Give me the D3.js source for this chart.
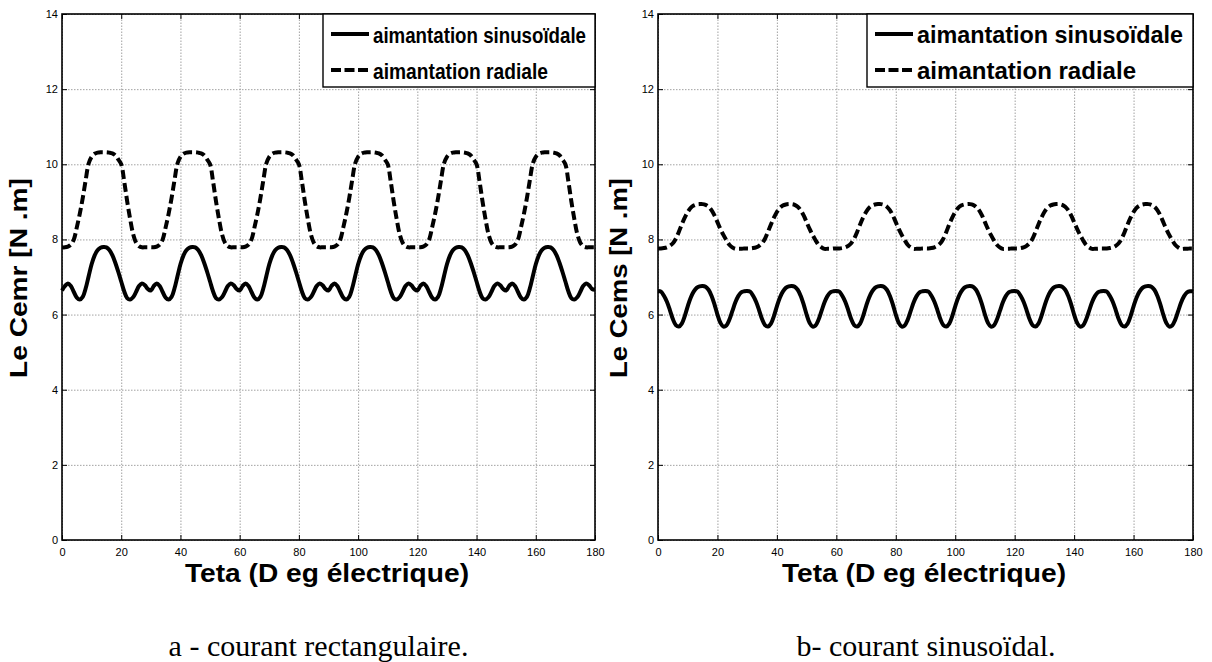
<!DOCTYPE html>
<html>
<head>
<meta charset="utf-8">
<script src="https://cdn.jsdelivr.net/npm/d3@7"></script>
<style>
  body { margin: 0; background: #fff; }
  svg { font-family: "Liberation Sans", Arial, sans-serif; }
  .grid line { stroke: #8a8a8a; stroke-dasharray: 1.5, 1.5; stroke-width: 0.8; }
  .grid path { display: none; }
  .ticks path { display: none; }
  .ticks line { stroke: #000; stroke-width: 1; }
  .ticks text { font-size: 11px; fill: #000; }
  .line { fill: none; stroke: #000; stroke-width: 4; stroke-linejoin: round; }
  .dash { stroke-dasharray: 9, 4; }
  .box { fill: none; stroke: #000; stroke-width: 1.6; }
</style>
</head>
<body>
<svg id="fig" width="1212" height="662"></svg>
<script>
// angle in electrical degrees, one sample per degree
var teta = d3.range(0, 181, 1);

// a - courant rectangulaire
var cemrSinusoidale = [
  6.64,6.76,6.83,6.76,6.60,6.45,6.40,6.47,6.70,7.02,7.34,7.57,7.71,7.78,7.80,7.79,7.72,7.58,7.38,7.14,6.88,6.62,6.44,6.40,6.46,6.60,6.76,6.83,6.78,6.68,
  6.64,6.76,6.83,6.76,6.60,6.45,6.40,6.47,6.70,7.02,7.34,7.57,7.71,7.78,7.80,7.79,7.72,7.58,7.38,7.14,6.88,6.62,6.44,6.40,6.46,6.60,6.76,6.83,6.78,6.68,
  6.64,6.76,6.83,6.76,6.60,6.45,6.40,6.47,6.70,7.02,7.34,7.57,7.71,7.78,7.80,7.79,7.72,7.58,7.38,7.14,6.88,6.62,6.44,6.40,6.46,6.60,6.76,6.83,6.78,6.68,
  6.64,6.76,6.83,6.76,6.60,6.45,6.40,6.47,6.70,7.02,7.34,7.57,7.71,7.78,7.80,7.79,7.72,7.58,7.38,7.14,6.88,6.62,6.44,6.40,6.46,6.60,6.76,6.83,6.78,6.68,
  6.64,6.76,6.83,6.76,6.60,6.45,6.40,6.47,6.70,7.02,7.34,7.57,7.71,7.78,7.80,7.79,7.72,7.58,7.38,7.14,6.88,6.62,6.44,6.40,6.46,6.60,6.76,6.83,6.78,6.68,
  6.64,6.76,6.83,6.76,6.60,6.45,6.40,6.47,6.70,7.02,7.34,7.57,7.71,7.78,7.80,7.79,7.72,7.58,7.38,7.14,6.88,6.62,6.44,6.40,6.46,6.60,6.76,6.83,6.78,6.68,
  6.66
];
var cemrRadiale = [
  7.79,7.79,7.81,7.86,8.00,8.32,8.68,9.10,9.58,10.02,10.20,10.28,10.31,10.32,10.32,10.32,10.31,10.29,10.24,10.13,10.00,9.55,9.02,8.55,8.15,7.92,7.82,7.79,7.79,7.79,
  7.79,7.79,7.81,7.86,8.00,8.32,8.68,9.10,9.58,10.02,10.20,10.28,10.31,10.32,10.32,10.32,10.31,10.29,10.24,10.13,10.00,9.55,9.02,8.55,8.15,7.92,7.82,7.79,7.79,7.79,
  7.79,7.79,7.81,7.86,8.00,8.32,8.68,9.10,9.58,10.02,10.20,10.28,10.31,10.32,10.32,10.32,10.31,10.29,10.24,10.13,10.00,9.55,9.02,8.55,8.15,7.92,7.82,7.79,7.79,7.79,
  7.79,7.79,7.81,7.86,8.00,8.32,8.68,9.10,9.58,10.02,10.20,10.28,10.31,10.32,10.32,10.32,10.31,10.29,10.24,10.13,10.00,9.55,9.02,8.55,8.15,7.92,7.82,7.79,7.79,7.79,
  7.79,7.79,7.81,7.86,8.00,8.32,8.68,9.10,9.58,10.02,10.20,10.28,10.31,10.32,10.32,10.32,10.31,10.29,10.24,10.13,10.00,9.55,9.02,8.55,8.15,7.92,7.82,7.79,7.79,7.79,
  7.79,7.79,7.81,7.86,8.00,8.32,8.68,9.10,9.58,10.02,10.20,10.28,10.31,10.32,10.32,10.32,10.31,10.29,10.24,10.13,10.00,9.55,9.02,8.55,8.15,7.92,7.82,7.79,7.79,7.79,
  7.79
];

// b- courant sinusoidal
var cemsSinusoidale = [
  6.63,6.61,6.50,6.34,6.12,5.88,5.72,5.68,5.76,5.96,6.22,6.45,6.61,6.71,6.75,6.76,6.74,6.66,6.50,6.27,6.00,5.78,5.68,5.71,5.86,6.09,6.32,6.49,6.59,6.62,
  6.63,6.61,6.50,6.34,6.12,5.88,5.72,5.68,5.76,5.96,6.22,6.45,6.61,6.71,6.75,6.76,6.74,6.66,6.50,6.27,6.00,5.78,5.68,5.71,5.86,6.09,6.32,6.49,6.59,6.62,
  6.63,6.61,6.50,6.34,6.12,5.88,5.72,5.68,5.76,5.96,6.22,6.45,6.61,6.71,6.75,6.76,6.74,6.66,6.50,6.27,6.00,5.78,5.68,5.71,5.86,6.09,6.32,6.49,6.59,6.62,
  6.63,6.61,6.50,6.34,6.12,5.88,5.72,5.68,5.76,5.96,6.22,6.45,6.61,6.71,6.75,6.76,6.74,6.66,6.50,6.27,6.00,5.78,5.68,5.71,5.86,6.09,6.32,6.49,6.59,6.62,
  6.63,6.61,6.50,6.34,6.12,5.88,5.72,5.68,5.76,5.96,6.22,6.45,6.61,6.71,6.75,6.76,6.74,6.66,6.50,6.27,6.00,5.78,5.68,5.71,5.86,6.09,6.32,6.49,6.59,6.62,
  6.63,6.61,6.50,6.34,6.12,5.88,5.72,5.68,5.76,5.96,6.22,6.45,6.61,6.71,6.75,6.76,6.74,6.66,6.50,6.27,6.00,5.78,5.68,5.71,5.86,6.09,6.32,6.49,6.59,6.62,
  6.62
];
var cemsRadiale = [
  7.76,7.76,7.77,7.79,7.83,7.90,8.02,8.20,8.40,8.58,8.73,8.84,8.90,8.93,8.94,8.94,8.92,8.87,8.78,8.64,8.46,8.28,8.12,7.98,7.86,7.79,7.75,7.75,7.75,7.76,
  7.76,7.76,7.77,7.79,7.83,7.90,8.02,8.20,8.40,8.58,8.73,8.84,8.90,8.93,8.94,8.94,8.92,8.87,8.78,8.64,8.46,8.28,8.12,7.98,7.86,7.79,7.75,7.75,7.75,7.76,
  7.76,7.76,7.77,7.79,7.83,7.90,8.02,8.20,8.40,8.58,8.73,8.84,8.90,8.93,8.94,8.94,8.92,8.87,8.78,8.64,8.46,8.28,8.12,7.98,7.86,7.79,7.75,7.75,7.75,7.76,
  7.76,7.76,7.77,7.79,7.83,7.90,8.02,8.20,8.40,8.58,8.73,8.84,8.90,8.93,8.94,8.94,8.92,8.87,8.78,8.64,8.46,8.28,8.12,7.98,7.86,7.79,7.75,7.75,7.75,7.76,
  7.76,7.76,7.77,7.79,7.83,7.90,8.02,8.20,8.40,8.58,8.73,8.84,8.90,8.93,8.94,8.94,8.92,8.87,8.78,8.64,8.46,8.28,8.12,7.98,7.86,7.79,7.75,7.75,7.75,7.76,
  7.76,7.76,7.77,7.79,7.83,7.90,8.02,8.20,8.40,8.58,8.73,8.84,8.90,8.93,8.94,8.94,8.92,8.87,8.78,8.64,8.46,8.28,8.12,7.98,7.86,7.79,7.75,7.75,7.75,7.76,
  7.76
];

var xTicks = [0, 20, 40, 60, 80, 100, 120, 140, 160, 180];
var yTicks = [0, 2, 4, 6, 8, 10, 12, 14];
var legendLabels = ["aimantation sinusoïdale", "aimantation radiale"];
var xLabel = "Teta (D eg électrique)";
var yLabels = ["Le Cemr [N .m]", "Le Cems [N .m]"];
var captions = ["a - courant rectangulaire.", "b- courant sinusoïdal."];

var svg = d3.select("#fig");

// layout of the two panels (pixels)
var panels = [
  { left: 62, top: 14, w: 533, h: 526, sin: cemrSinusoidale, rad: cemrRadiale,
    ylab: yLabels[0], ylabX: 27, cap: captions[0], capX: 318.5, xlabX: 327,
    leg: { x: 323, w: 272, font: 22, len: [213, 175] } },
  { left: 658, top: 14, w: 535, h: 526, sin: cemsSinusoidale, rad: cemsRadiale,
    ylab: yLabels[1], ylabX: 627, cap: captions[1], capX: 926, xlabX: 924,
    leg: { x: 867, w: 326, font: 24, len: [266, 219] } }
];

panels.forEach(function (p) {
  var g = svg.append("g")
    .attr("transform", "translate(" + p.left + "," + p.top + ")");

  var x = d3.scaleLinear().domain([0, 180]).range([0, p.w]),
    y = d3.scaleLinear().domain([0, 14]).range([p.h, 0]);

  // dotted grid
  g.append("g")
    .attr("class", "grid")
    .attr("transform", "translate(0," + p.h + ")")
    .call(d3.axisBottom(x).tickValues(xTicks).tickSize(-p.h).tickFormat(""));
  g.append("g")
    .attr("class", "grid")
    .call(d3.axisLeft(y).tickValues(yTicks).tickSize(-p.w).tickFormat(""));

  var line = d3.line()
    .x(function (d, i) { return x(teta[i]); })
    .y(function (d) { return y(d); })
    .curve(d3.curveCatmullRom.alpha(0.5));

  g.append("path")
    .attr("class", "line dash")
    .attr("d", line(p.rad));
  g.append("path")
    .attr("class", "line")
    .attr("d", line(p.sin));

  // inward ticks on the four sides
  g.append("g")
    .attr("class", "ticks")
    .attr("transform", "translate(0," + p.h + ")")
    .call(d3.axisBottom(x).tickValues(xTicks).tickSizeInner(-5).tickSizeOuter(0).tickPadding(8));
  g.append("g")
    .attr("class", "ticks")
    .call(d3.axisLeft(y).tickValues(yTicks).tickSizeInner(-5).tickSizeOuter(0).tickPadding(4));
  g.append("g")
    .attr("class", "ticks")
    .call(d3.axisTop(x).tickValues(xTicks).tickSizeInner(-5).tickSizeOuter(0).tickFormat(""));
  g.append("g")
    .attr("class", "ticks")
    .attr("transform", "translate(" + p.w + ",0)")
    .call(d3.axisRight(y).tickValues(yTicks).tickSizeInner(-5).tickSizeOuter(0).tickFormat(""));

  g.append("rect")
    .attr("class", "box")
    .attr("width", p.w)
    .attr("height", p.h);

  // legend
  var lg = g.append("g")
    .attr("transform", "translate(" + (p.leg.x - p.left) + ",0)");
  lg.append("rect")
    .attr("width", p.leg.w)
    .attr("height", 73)
    .style("fill", "#fff")
    .style("stroke", "#000")
    .style("stroke-width", 1.4);

  var item = lg.selectAll(".item")
    .data(legendLabels)
    .enter()
    .append("g")
    .attr("class", "item")
    .attr("transform", function (d, i) { return "translate(0," + (20 + i * 36) + ")"; });

  item.append("line")
    .attr("x1", 8)
    .attr("x2", 46)
    .style("stroke", "#000")
    .style("stroke-width", 4)
    .style("stroke-dasharray", function (d, i) { return i === 1 ? "10,3.5" : null; });

  item.append("text")
    .attr("x", 50)
    .attr("y", 9)
    .attr("textLength", function (d, i) { return p.leg.len[i]; })
    .attr("lengthAdjust", "spacingAndGlyphs")
    .style("font-size", p.leg.font + "px")
    .style("font-weight", "bold")
    .text(function (d) { return d; });

  // axis titles
  svg.append("text")
    .attr("x", p.xlabX - 142)
    .attr("y", 582)
    .attr("textLength", 284)
    .attr("lengthAdjust", "spacingAndGlyphs")
    .style("font-size", "26px")
    .style("font-weight", "bold")
    .text(xLabel);

  svg.append("text")
    .attr("transform", "translate(" + p.ylabX + ",378) rotate(-90)")
    .attr("textLength", 200)
    .attr("lengthAdjust", "spacingAndGlyphs")
    .style("font-size", "23px")
    .style("font-weight", "bold")
    .text(p.ylab);

  svg.append("text")
    .attr("x", p.capX)
    .attr("y", 656)
    .attr("text-anchor", "middle")
    .style("font-family", "'Liberation Serif', 'Times New Roman', serif")
    .style("font-size", "30px")
    .text(p.cap);
});
</script>
</body>
</html>
